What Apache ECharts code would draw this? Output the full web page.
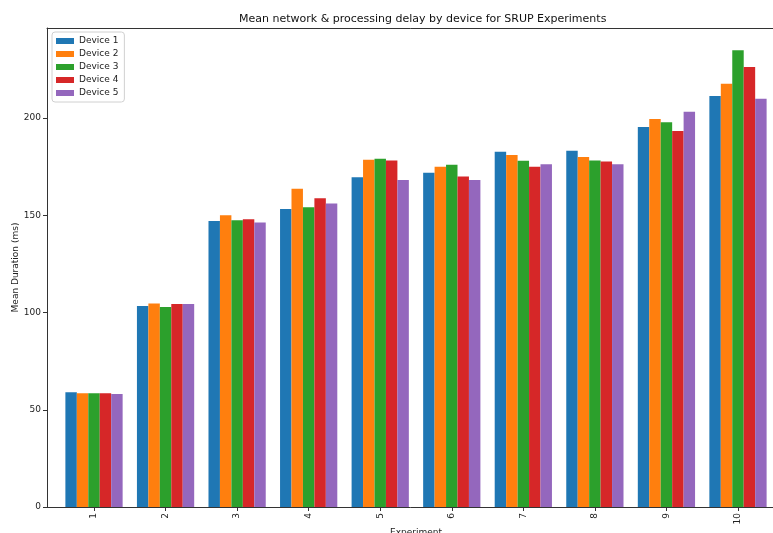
<!DOCTYPE html>
<html>
<head>
<meta charset="utf-8">
<script src="https://cdn.jsdelivr.net/npm/echarts@6/dist/echarts.min.js"></script>
<style>
  html, body { margin: 0; padding: 0; background: #fff; }
  #chart { width: 773px; height: 533px; }
</style>
</head>
<body>
<div id="chart"></div>
<script>
// experiments 1..10, mean duration (ms) per device
const experiments = ['1', '2', '3', '4', '5', '6', '7', '8', '9', '10']
const device1 = [59.0, 103.4, 147.0, 153.2, 169.5, 171.9, 182.7, 183.2, 195.4, 211.3]
const device2 = [58.5, 104.6, 150.0, 163.7, 178.6, 175.0, 181.0, 180.0, 199.5, 217.6]
const device3 = [58.5, 102.8, 147.5, 154.1, 179.1, 176.0, 178.1, 178.2, 197.8, 234.8]
const device4 = [58.5, 104.4, 148.0, 158.7, 178.2, 170.0, 175.0, 177.7, 193.3, 226.2]
const device5 = [58.1, 104.4, 146.3, 156.1, 168.1, 168.1, 176.3, 176.3, 203.3, 209.9]
const yTicks = [0, 50, 100, 150, 200]

const seriesNames = ['Device 1', 'Device 2', 'Device 3', 'Device 4', 'Device 5']
const seriesValues = [device1, device2, device3, device4, device5]
const colors = ['#1f77b4', '#ff7f0e', '#2ca02c', '#d62728', '#9467bd']

const chart = echarts.init(document.getElementById('chart'))

const axisColor = '#333'

const option = {
  animation: false,
  color: colors,
  textStyle: { fontFamily: 'DejaVu Sans' },
  title: {
    text: 'Mean network & processing delay by device for SRUP Experiments',
    left: 239,
    top: 14,
    padding: 0,
    textStyle: { fontSize: 11, fontWeight: 'normal', color: '#111', fontFamily: 'DejaVu Sans' }
  },
  legend: {
    orient: 'vertical',
    left: 52,
    top: 32,
    padding: [4, 6, 4, 4],
    borderColor: '#d0d0d0',
    borderWidth: 1,
    borderRadius: 3,
    icon: 'rect',
    itemWidth: 18,
    itemHeight: 6,
    itemGap: 3,
    textStyle: { fontSize: 9, color: '#222', lineHeight: 10 },
    data: seriesNames
  },
  grid: { left: 47, right: -12, top: 28, bottom: 26, outerBoundsMode: 'none', containLabel: false },
  xAxis: [
    {
      type: 'value',
      min: -0.657,
      max: 9.657,
      splitLine: { show: false },
      axisLine: { onZero: false, lineStyle: { color: axisColor, width: 1 } },
      axisTick: { show: true, length: 4, customValues: experiments.map((_, i) => i), lineStyle: { color: axisColor } },
      axisLabel: {
        customValues: experiments.map((_, i) => i),
        formatter: v => experiments[Math.round(v)],
        rotate: 90,
        fontSize: 9,
        color: '#222',
        margin: 6
      },
      name: 'Experiment',
      nameLocation: 'middle',
      nameGap: 21,
      nameMoveOverlap: false,
      nameTextStyle: { fontSize: 9, color: '#222' }
    },
    {
      type: 'value',
      position: 'top',
      min: -0.657,
      max: 9.657,
      splitLine: { show: false },
      axisLine: { show: true, onZero: false, lineStyle: { color: axisColor, width: 1 } },
      axisTick: { show: false },
      axisLabel: { show: false }
    }
  ],
  yAxis: {
    type: 'value',
    min: 0,
    max: 246.3,
    splitLine: { show: false },
    axisLine: { show: true, onZero: false, lineStyle: { color: axisColor, width: 1 } },
    axisTick: { show: true, length: 4, customValues: yTicks, lineStyle: { color: axisColor } },
    axisLabel: { customValues: yTicks, fontSize: 9, color: '#222', margin: 6 },
    name: 'Mean Duration (ms)',
    nameLocation: 'middle',
    nameRotate: 90,
    nameGap: 27,
    nameMoveOverlap: false,
    nameTextStyle: { fontSize: 9, color: '#222' }
  },
  series: seriesNames.map((name, s) => ({
    name: name,
    type: 'bar',
    xAxisIndex: 0,
    barWidth: 11.45,
    barGap: '0%',
    data: seriesValues[s].map((v, i) => [i, v])
  }))
}

chart.setOption(option)
</script>
</body>
</html>
